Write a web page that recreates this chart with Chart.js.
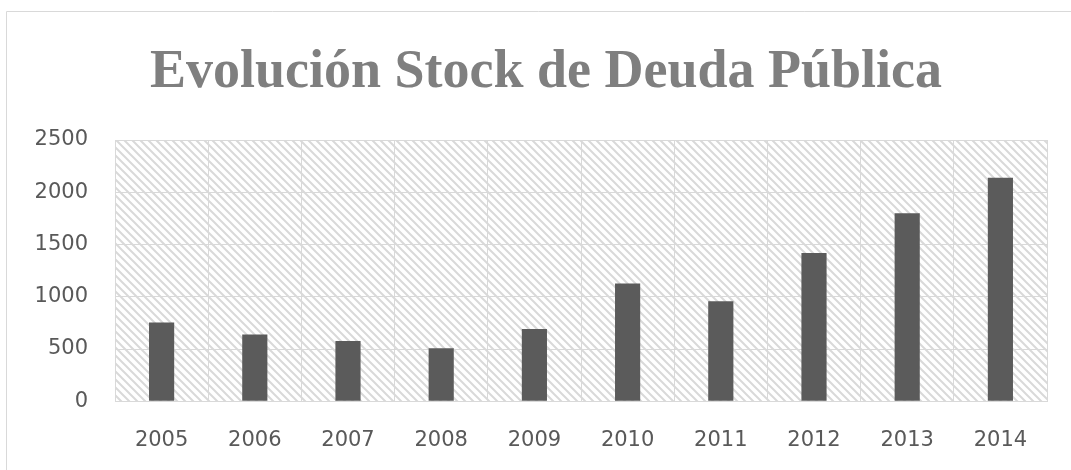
<!DOCTYPE html>
<html>
<head>
<meta charset="utf-8">
<script src="https://cdn.jsdelivr.net/npm/chart.js@4.4.1/dist/chart.umd.min.js"></script>
<style>
  html, body { margin: 0; padding: 0; background: #ffffff; }
  #wrap { position: relative; width: 1071px; height: 470px; }
  canvas { display: block; }
</style>
</head>
<body>
<div id="wrap"><canvas id="c" width="1071" height="470"></canvas></div>
<script>
const titleText = 'Evolución Stock de Deuda Pública';
const years = ['2005', '2006', '2007', '2008', '2009', '2010', '2011', '2012', '2013', '2014'];
const stock = [755, 640, 577, 507, 691, 1128, 957, 1419, 1800, 2139];
const yTicks = [0, 500, 1000, 1500, 2000, 2500];

function makeHatch() {
  const s = 8;
  const p = document.createElement('canvas');
  p.width = s; p.height = s;
  const g = p.getContext('2d');
  g.fillStyle = '#ffffff';
  g.fillRect(0, 0, s, s);
  g.strokeStyle = '#d9d9d9';
  g.lineWidth = 2;
  g.beginPath();
  g.moveTo(-2, -2); g.lineTo(s + 2, s + 2);
  g.moveTo(-2, s - 2); g.lineTo(2, s + 2);
  g.moveTo(s - 2, -2); g.lineTo(s + 2, 2);
  g.stroke();
  return g.createPattern(p, 'repeat');
}

const framePlugin = {
  id: 'frame',
  beforeDraw(chart) {
    const ctx = chart.ctx;
    const a = chart.chartArea;
    ctx.save();
    ctx.strokeStyle = '#d9d9d9';
    ctx.lineWidth = 1;
    ctx.beginPath();
    ctx.moveTo(6.5, 470); ctx.lineTo(6.5, 11.5); ctx.lineTo(1071, 11.5);
    ctx.stroke();
    ctx.fillStyle = makeHatch();
    ctx.fillRect(a.left, a.top, a.right - a.left, a.bottom - a.top);
    ctx.restore();
  },
  afterDraw(chart) {
    const ctx = chart.ctx;
    ctx.save();
    ctx.font = 'bold 54px "Liberation Serif", serif';
    ctx.fillStyle = '#7f7f7f';
    ctx.textAlign = 'center';
    ctx.textBaseline = 'alphabetic';
    ctx.fillText(titleText, 546, 87);
    ctx.restore();
  }
};

new Chart(document.getElementById('c'), {
  type: 'bar',
  data: {
    labels: years,
    datasets: [{
      data: stock,
      backgroundColor: '#5b5b5b',
      borderWidth: 0,
      categoryPercentage: 1.0,
      barPercentage: 0.27
    }]
  },
  options: {
    responsive: false,
    animation: false,
    devicePixelRatio: 1,
    layout: { padding: { top: 140, right: 24, bottom: 0, left: 0 } },
    plugins: {
      legend: { display: false },
      tooltip: { enabled: false },
      title: { display: false }
    },
    scales: {
      x: {
        grid: { display: true, color: '#d9d9d9', lineWidth: 1, drawTicks: false, offset: true },
        border: { display: true, color: '#d9d9d9' },
        ticks: { color: '#595959', font: { family: '"DejaVu Sans", sans-serif', size: 21 }, padding: 27, maxRotation: 0 },
        afterFit(scale) { scale.height = 68.7; }
      },
      y: {
        min: 0,
        max: 2500,
        afterBuildTicks(scale) { scale.ticks = yTicks.map(v => ({ value: v })); },
        grid: { color: '#d9d9d9', lineWidth: 1, drawTicks: false },
        border: { display: true, color: '#d9d9d9' },
        ticks: {
          color: '#595959',
          font: { family: '"DejaVu Sans", sans-serif', size: 21 },
          padding: 27,
          callback: (v) => String(v)
        },
        afterFit(scale) { scale.width = 115; }
      }
    }
  },
  plugins: [framePlugin]
});
</script>
</body>
</html>
